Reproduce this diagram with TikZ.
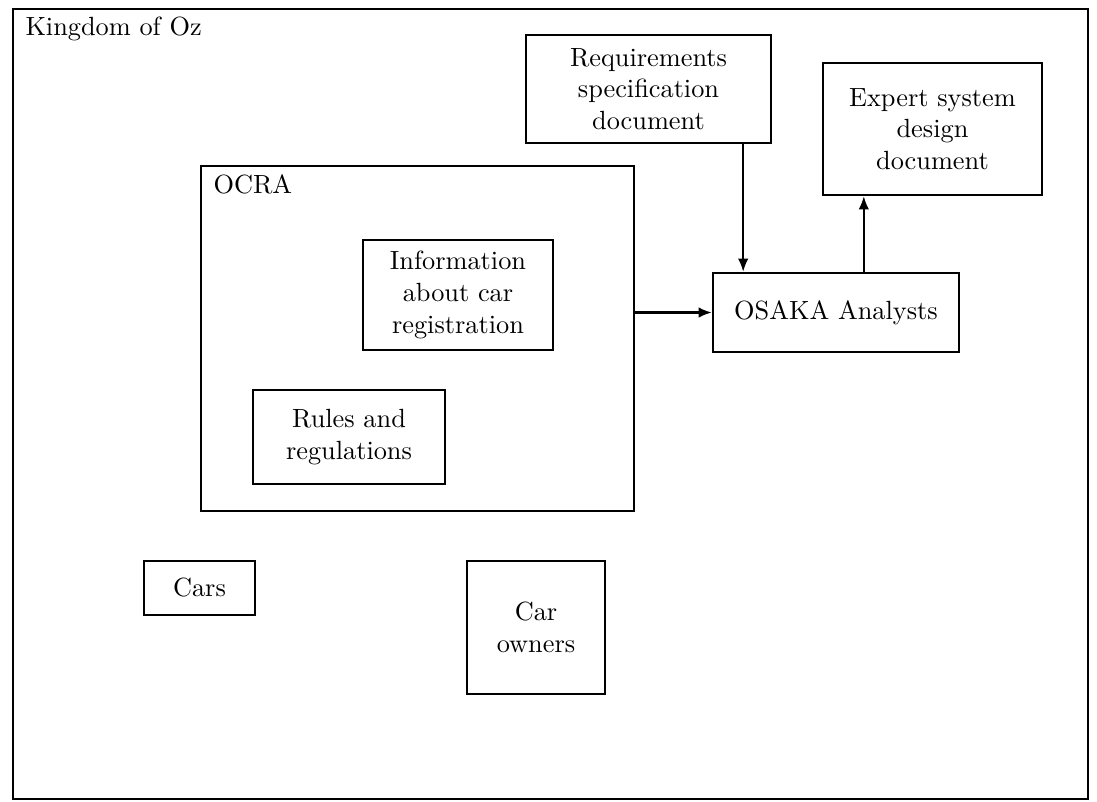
\documentclass[tikz,border=0pt]{standalone}
\usetikzlibrary{arrows.meta}
\begin{document}
\begin{tikzpicture}[x=0.38pt,y=-0.38pt,
  frame/.style={draw,line width=0.9pt,inner sep=0pt,align=center,font=\fontsize{10}{12}\selectfont},
  arr/.style={line width=0.8pt,-{Latex[length=5pt,width=4pt]}},
  lbl/.style={inner sep=0pt,anchor=base west,font=\fontsize{10}{12}\selectfont}]
\useasboundingbox (0,0) rectangle (1097,801);
% outer region and the agency inside it
\node[frame,minimum width={1075*0.38pt},minimum height={790*0.38pt}] (oz) at (550.5,404) {};
\node[lbl] (ozlbl) at (25,35) {Kingdom of Oz};
\node[frame,minimum width={433*0.38pt},minimum height={345*0.38pt}] (ocra) at (417.5,338.5) {};
\node[lbl] (ocralbl) at (213,193) {OCRA};
% boxes
\node[frame,minimum width={190*0.38pt},minimum height={110*0.38pt}] (info) at (458,295) {Information\\about car\\registration};
\node[frame,minimum width={192*0.38pt},minimum height={94*0.38pt}] (rules) at (349,437) {Rules and\\regulations};
\node[frame,minimum width={111*0.38pt},minimum height={54*0.38pt}] (cars) at (199.5,588) {Cars};
\node[frame,minimum width={138*0.38pt},minimum height={133*0.38pt}] (owners) at (536,627.5) {Car\\owners};
\node[frame,minimum width={245*0.38pt},minimum height={108*0.38pt}] (req) at (648.5,89) {Requirements\\specification\\document};
\node[frame,minimum width={219*0.38pt},minimum height={132*0.38pt}] (expert) at (932.5,129) {Expert system\\design\\document};
\node[frame,minimum width={246*0.38pt},minimum height={79*0.38pt}] (osaka) at (836,312.5) {OSAKA Analysts};
% connectors
\draw[arr] (osaka.west -| ocra.east) -- (osaka.west);
\draw[arr] ([xshift={-29*0.38pt}]req.south east) -- ([xshift={-29*0.38pt}]req.south east |- osaka.north);
\draw[arr] ([xshift={42*0.38pt}]expert.south west |- osaka.north) -- ([xshift={42*0.38pt}]expert.south west);
\end{tikzpicture}
\end{document}
